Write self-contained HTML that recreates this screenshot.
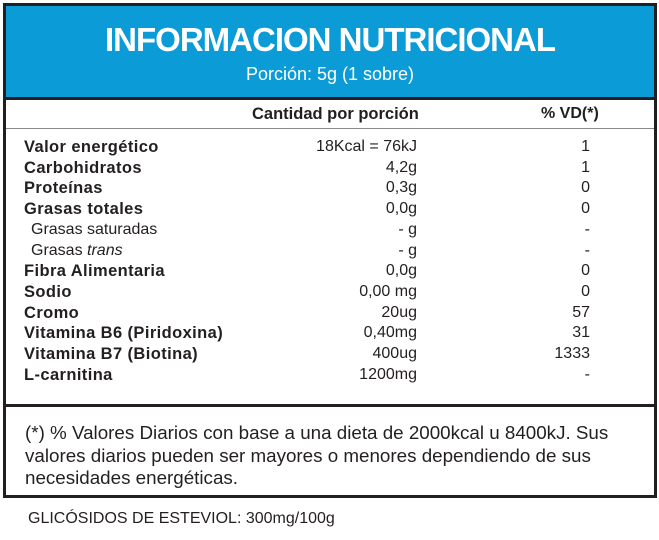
<!DOCTYPE html>
<html><head><meta charset="utf-8"><style>
body{margin:0;width:659px;height:540px;background:#fff;position:relative;font-family:"Liberation Sans",sans-serif;color:#231f20;overflow:hidden}
.box{position:absolute;left:3px;top:3px;width:648px;height:489px;border:3px solid #231f20}
.hd{position:absolute;left:0;top:0;width:648px;height:91px;background:#0b9bd7;border-bottom:3px solid #231f20}
.t{position:absolute;left:0;width:648px;text-align:center;color:#fff}
.ab{position:absolute;white-space:nowrap}
.r{position:absolute;white-space:nowrap;font-size:16px;line-height:20px}
</style></head><body>
<div class="box">
<div class="hd">
<div class="t" style="top:15px;font-size:33px;font-weight:bold;letter-spacing:-1px">INFORMACION NUTRICIONAL</div>
<div class="t" style="top:58px;font-size:18px">Porción: 5g (1 sobre)</div>
</div>
<div style="position:absolute;left:0;top:122px;width:648px;height:1px;background:#888"></div>
<div style="position:absolute;left:0;top:398px;width:648px;height:3px;background:#231f20"></div>
</div>
<div class="r" style="left:252px;top:104px;font-weight:bold;font-size:16.5px">Cantidad por porción</div>
<div class="r" style="left:541px;top:104px;font-weight:bold">% VD(*)</div>
<div id="rows"></div>
<div class="ab" style="left:25px;top:422px;font-size:18.8px;line-height:22.5px">(*) % Valores Diarios con base a una dieta de 2000kcal u 8400kJ. Sus<br>valores diarios pueden ser mayores o menores dependiendo de sus<br>necesidades energéticas.</div>
<div class="ab" style="left:28px;top:510px;font-size:16px">GLICÓSIDOS DE ESTEVIOL: 300mg/100g</div>
<script>
var d=[["Valor energético","18Kcal = 76kJ","1",1],["Carbohidratos","4,2g","1",1],["Proteínas","0,3g","0",1],["Grasas totales","0,0g","0",1],["Grasas saturadas","- g","-",0],["Grasas <i>trans</i>","- g","-",0],["Fibra Alimentaria","0,0g","0",1],["Sodio","0,00 mg","0",1],["Cromo","20ug","57",1],["Vitamina B6 (Piridoxina)","0,40mg","31",1],["Vitamina B7 (Biotina)","400ug","1333",1],["L-carnitina","1200mg","-",1]];
var h="";d.forEach(function(r,i){var y=137+i*20.7;
h+='<div class="r" style="left:'+(r[3]?24:31)+'px;top:'+y+'px;'+(r[3]?'font-weight:bold;font-size:16.5px;letter-spacing:0.4px':'')+'">'+r[0]+'</div>';
h+='<div class="r" style="right:242px;top:'+y+'px">'+r[1]+'</div>';
h+='<div class="r" style="right:69px;top:'+y+'px">'+r[2]+'</div>';});
document.getElementById("rows").innerHTML=h;
</script>
</body></html>
